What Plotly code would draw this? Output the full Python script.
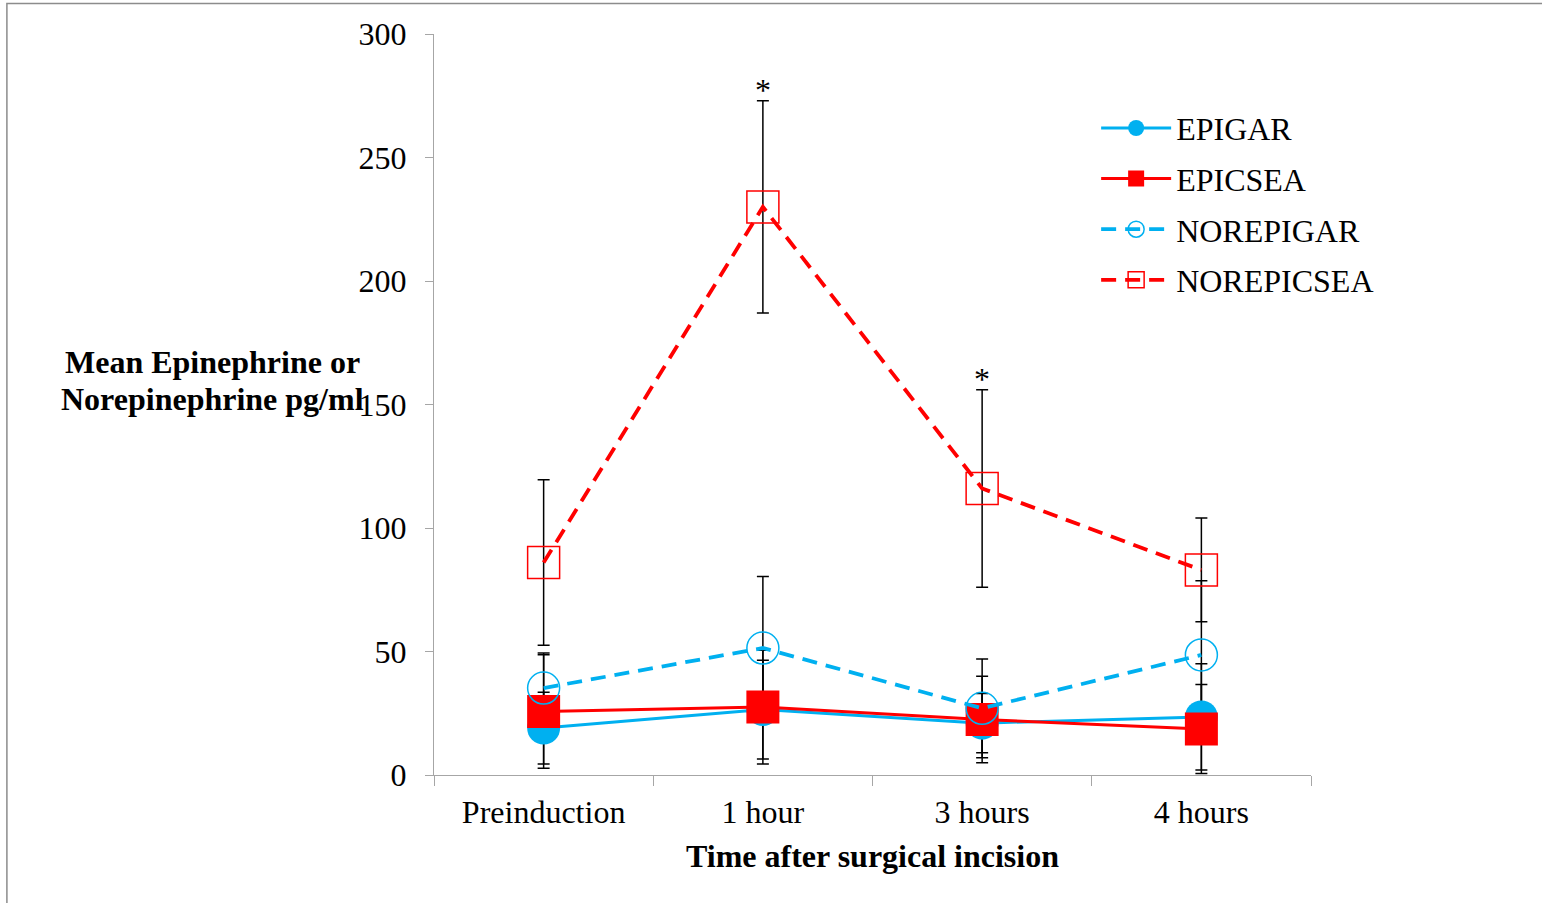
import plotly.graph_objects as go

categories = ["Preinduction", "1 hour", "3 hours", "4 hours"]

epigar = [19, 26.5, 21, 23.5]
epigar_err = [14.5, 20, 12, 21.5]

epicsea = [25.7, 27.5, 22.5, 18.6]
epicsea_err = [23, 23, 17.5, 18]

norepigar = [35.2, 51.4, 27, 48.6]
norepigar_err = [14.2, 29, 20, 30]

norepicsea = [86, 230, 116, 83]
norepicsea_err = [33.5, 43, 40, 21]

significant = [False, True, True, False]

BLUE = "#00B0F0"
RED = "#FF0000"
FONT = "Liberation Serif"
FS = 32

series = [
    ("EPIGAR", epigar, epigar_err, BLUE, "solid", dict(symbol="circle", size=33, color=BLUE)),
    ("EPICSEA", epicsea, epicsea_err, RED, "solid", dict(symbol="square", size=33, color=RED)),
    ("NOREPIGAR", norepigar, norepigar_err, BLUE, "15px,9px",
     dict(symbol="circle-open", size=32, color=BLUE, line=dict(width=1.5, color=BLUE))),
    ("NOREPICSEA", norepicsea, norepicsea_err, RED, "15px,9px",
     dict(symbol="square-open", size=32, color=RED, line=dict(width=1.5, color=RED))),
]

fig = go.Figure()

# error bars underneath all markers
for name, vals, err, col, dash, mk in series:
    fig.add_trace(go.Scatter(
        x=categories, y=vals, mode="markers",
        marker=dict(size=1, opacity=0),
        error_y=dict(type="data", array=err, visible=True, color="black", thickness=1.5, width=6),
        showlegend=False, hoverinfo="skip", legendgroup=name,
    ))

for name, vals, err, col, dash, mk in series:
    fig.add_trace(go.Scatter(
        x=categories, y=vals, mode="lines+markers", name=name,
        line=dict(color=col, width=3.8 if dash != "solid" else 3, dash=dash),
        marker=mk, legendgroup=name,
    ))

# significance asterisks above NOREPICSEA error bars
for c, v, e, s in zip(categories, norepicsea, norepicsea_err, significant):
    if s:
        fig.add_annotation(x=c, y=v + e, text="*", showarrow=False, yanchor="bottom",
                           yshift=-9, font=dict(family=FONT, size=FS, color="black"))

# y-axis title (horizontal, two lines)
fig.add_annotation(xref="paper", yref="paper", x=-0.253, y=0.557, text="<b>Mean Epinephrine or</b>",
                   showarrow=False, xanchor="center", yanchor="middle",
                   font=dict(family=FONT, size=FS, color="black"))
fig.add_annotation(xref="paper", yref="paper", x=-0.253, y=0.507, text="<b>Norepinephrine pg/ml</b>",
                   showarrow=False, xanchor="center", yanchor="middle",
                   font=dict(family=FONT, size=FS, color="black"))

# outer chart frame
fig.add_shape(type="rect", xref="paper", yref="paper", x0=-0.487, y0=-0.2, x1=1.3, y1=1.041,
              line=dict(color="#8c8c8c", width=1.5), fillcolor="rgba(0,0,0,0)", layer="below")

fig.update_layout(
    width=1542, height=903,
    margin=dict(l=434, r=231, t=34, b=128),
    paper_bgcolor="white", plot_bgcolor="white",
    font=dict(family=FONT, size=FS, color="black"),
    showlegend=True,
    legend=dict(x=0.755, y=0.91, xanchor="left", yanchor="top",
                font=dict(family=FONT, size=FS, color="black"),
                bgcolor="rgba(0,0,0,0)", itemwidth=70, tracegroupgap=6,
                traceorder="grouped"),
    xaxis=dict(range=[-0.5, 3.5], showline=True, linecolor="#a6a6a6", linewidth=1.3,
               ticks="outside", ticklen=10, tickcolor="#a6a6a6", tickson="boundaries",
               showgrid=False, zeroline=False, ticklabelstandoff=8,
               title=dict(text="<b>Time after surgical incision</b>", standoff=16,
                          font=dict(family=FONT, size=FS, color="black"))),
    yaxis=dict(range=[0, 300], dtick=50, showline=True, linecolor="#a6a6a6", linewidth=1.3,
               ticks="outside", ticklen=8, tickcolor="#a6a6a6", showgrid=False, zeroline=False,
               ticklabelstandoff=12),
)

fig.write_html("out.html", config={"displayModeBar": False},
               post_script="document.body.style.margin='0';")
